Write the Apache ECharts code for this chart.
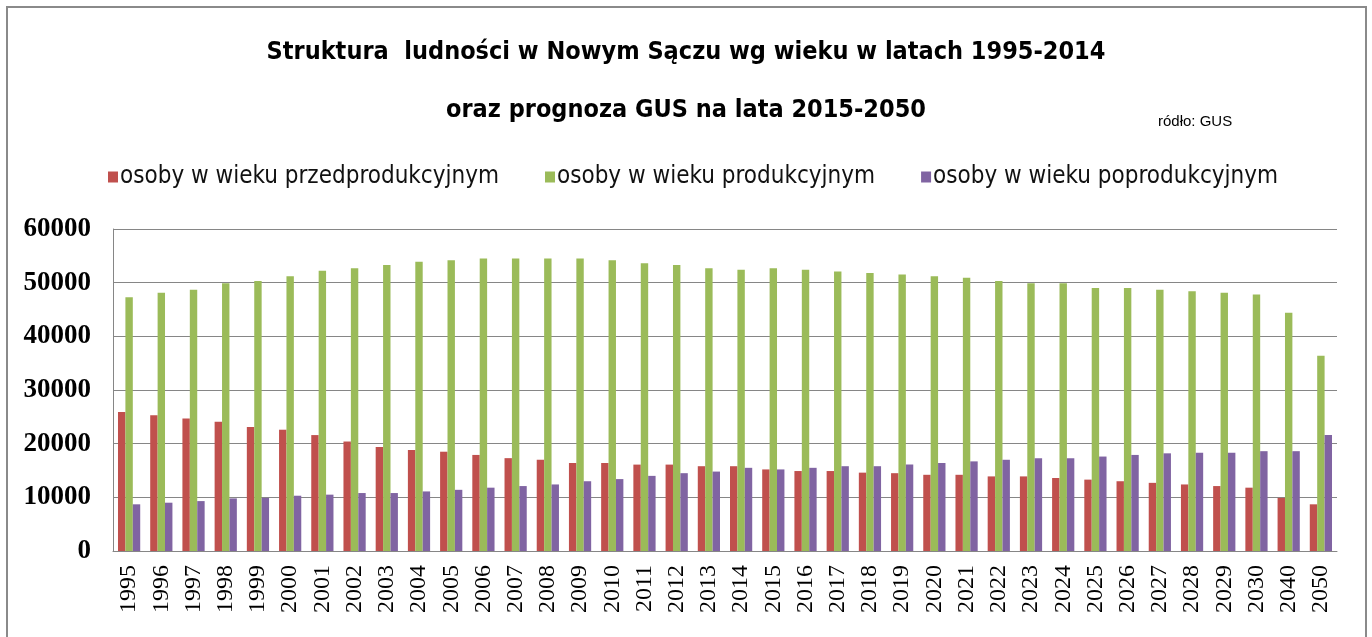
<!DOCTYPE html>
<html>
<head>
<meta charset="utf-8">
<script src="https://cdn.jsdelivr.net/npm/echarts@6/dist/echarts.min.js"></script>
<style>
  html, body { margin: 0; padding: 0; background: #fff; }
  #chart { width: 1372px; height: 637px; }
</style>
</head>
<body>
<div id="chart"></div>
<script>
const years = ['1995','1996','1997','1998','1999','2000','2001','2002','2003','2004','2005',
  '2006','2007','2008','2009','2010','2011','2012','2013','2014','2015','2016','2017','2018',
  '2019','2020','2021','2022','2023','2024','2025','2026','2027','2028','2029','2030','2040','2050']

const przedprodukcyjny = [25900,25300,24700,24100,23100,22600,21600,20400,19400,18800,18500,
  17900,17300,17000,16400,16400,16100,16100,15800,15800,15200,14900,14900,14600,
  14500,14200,14200,13900,13900,13600,13300,13000,12700,12400,12100,11800,9900,8700]

const produkcyjny = [47300,48100,48700,49900,50300,51200,52200,52700,53300,53900,54200,
  54500,54500,54500,54500,54200,53600,53300,52700,52400,52700,52400,52100,51800,
  51500,51200,50900,50300,49900,49900,49000,49000,48700,48400,48100,47800,44400,36400]

const poprodukcyjny = [8700,9000,9300,9800,9900,10300,10500,10800,10800,11100,11400,
  11800,12100,12400,13000,13400,14000,14500,14800,15500,15200,15500,15800,15800,
  16100,16400,16700,17000,17300,17300,17600,17900,18200,18300,18300,18600,18600,21600]

const seriesNames = ['osoby w wieku przedprodukcyjnym', 'osoby w wieku produkcyjnym', 'osoby w wieku poprodukcyjnym']
const colors = ['#C0504D', '#9BBB59', '#8064A2']

const narrow = "'Liberation Sans Narrow', 'DejaVu Sans Condensed', Lato, sans-serif"

const chart = echarts.init(document.getElementById('chart'))
chart.setOption({
  animation: false,
  color: colors,
  title: [
    { text: 'Struktura  ludności w Nowym Sączu wg wieku w latach 1995-2014', left: 'center', top: 35,
      textStyle: { fontFamily: narrow, fontSize: 25, fontWeight: 'bold', color: '#000' } },
    { text: 'oraz prognoza GUS na lata 2015-2050', left: 'center', top: 93,
      textStyle: { fontFamily: narrow, fontSize: 25, fontWeight: 'bold', color: '#000' } },
    { text: 'ródło: GUS', left: 1153, top: 109,
      textStyle: { fontFamily: 'Liberation Sans, Arial, sans-serif', fontSize: 15, fontWeight: 'normal', color: '#000' } }
  ],
  legend: {
    top: 160,
    left: 103,
    itemWidth: 10,
    itemHeight: 11,
    itemGap: 46,
    icon: 'rect',
    textStyle: { fontFamily: narrow, fontSize: 24, color: '#111', padding: [0, 0, 0, -3] },
    data: seriesNames
  },
  graphic: [{
    type: 'rect', silent: true, z: -1,
    shape: { x: 7, y: 7, width: 1359, height: 660 },
    style: { fill: null, stroke: '#8a8a8a', lineWidth: 2 }
  }],
  grid: { left: 113, right: 35, top: 229, bottom: 86 },
  xAxis: {
    type: 'category',
    data: years,
    axisLine: { lineStyle: { color: '#868686', width: 1 } },
    axisTick: { show: false },
    axisLabel: { rotate: 90, interval: 0, margin: 14, fontFamily: "'Liberation Serif', 'Times New Roman', serif", fontSize: 24, color: '#000' }
  },
  yAxis: {
    type: 'value',
    min: 0, max: 60000, interval: 10000,
    axisLine: { show: true, lineStyle: { color: '#868686', width: 1 } },
    axisTick: { show: false },
    splitLine: { lineStyle: { color: '#868686', width: 1 } },
    axisLabel: { margin: 22, formatter: v => String(v), fontFamily: "'Liberation Serif', serif", fontWeight: 'bold', fontSize: 27, color: '#000' }
  },
  series: [
    { name: seriesNames[0], type: 'bar', data: przedprodukcyjny, barGap: '0%', barCategoryGap: '31%' },
    { name: seriesNames[1], type: 'bar', data: produkcyjny, barGap: '0%', barCategoryGap: '31%' },
    { name: seriesNames[2], type: 'bar', data: poprodukcyjny, barGap: '0%', barCategoryGap: '31%' }
  ]
})
</script>
</body>
</html>
